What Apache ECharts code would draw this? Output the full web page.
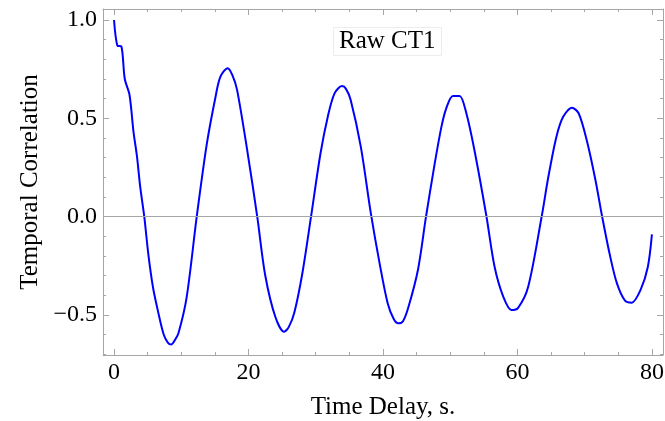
<!DOCTYPE html>
<html>
<head>
<meta charset="utf-8">
<script src="https://cdn.jsdelivr.net/npm/echarts@6/dist/echarts.min.js"></script>
<style>html,body{margin:0;padding:0;background:#fff}#c{width:665px;height:421px}</style>
</head>
<body>
<div id="c"></div>
<script>
const times = [0,0.5,1.1,1.6,2.3,2.9,3.4,3.9,4.5,5.1,5.8,6.6,7.4,8.0,8.5,9.0,9.6,10.8,12.3,13.8,15.1,15.8,16.9,17.6,18.3,19.8,21.3,22.5,24.0,25.3,26.0,26.8,28.0,29.3,30.7,31.8,32.8,33.9,34.5,35.2,36.7,38.2,39.5,40.7,41.6,42.3,43.0,43.8,45.2,46.4,47.7,48.7,49.4,50.4,51.4,52.4,53.6,55.4,56.6,57.9,59.1,60.1,61.6,63.6,64.6,65.8,66.8,68.1,69.1,70.3,71.6,72.6,73.8,74.8,76.0,77.0,78.3,79.4,80.0];
const correlation = [1.0,0.87,0.865,0.70,0.62,0.43,0.31,0.15,0.0,-0.19,-0.36,-0.49,-0.60,-0.64,-0.65,-0.63,-0.59,-0.41,0.0,0.37,0.61,0.71,0.755,0.72,0.645,0.34,0.0,-0.30,-0.51,-0.585,-0.56,-0.49,-0.29,0.0,0.32,0.51,0.627,0.664,0.65,0.593,0.356,0.017,-0.237,-0.44,-0.52,-0.542,-0.53,-0.458,-0.271,0.0,0.271,0.458,0.55,0.614,0.614,0.526,0.339,0.0,-0.254,-0.407,-0.474,-0.463,-0.356,0.0,0.203,0.407,0.508,0.554,0.526,0.39,0.187,0.0,-0.203,-0.339,-0.427,-0.437,-0.373,-0.254,-0.09];
const xMajorTicks = [0,20,40,60,80];
const xMinorTicks = [5,10,15,25,30,35,45,50,55,65,70,75];
const yMajorTicks = [-0.5,0,0.5,1.0];
const yMinorTicks = [-0.7,-0.6,-0.4,-0.3,-0.2,-0.1,0.1,0.2,0.3,0.4,0.6,0.7,0.8,0.9];
const yLabels = {'-0.5':'\u22120.5','0':'0.0','0.5':'0.5','1':'1.0'};
const titleText = 'Raw CT1';
const xName = 'Time Delay, s.';
const yName = 'Temporal Correlation';

const FONT = 'Liberation Serif';
const FRAME = '#a6a6a6';
const XMIN = -1.64, XMAX = 81.65, YMIN = -0.703, YMAX = 1.056;

function xAx(pos, major, withLabels, showLine) {
  return {
    type: 'value', min: XMIN, max: XMAX, position: pos, gridIndex: 0,
    name: withLabels ? xName : '', nameLocation: 'middle', nameGap: 40,
    nameTextStyle: {fontFamily: FONT, fontSize: 25, color: '#000'},
    axisLine: {show: showLine, onZero: false, lineStyle: {color: FRAME, width: 1}},
    axisTick: {show: true, inside: true, length: major ? 6 : 3, customValues: major ? xMajorTicks : xMinorTicks, lineStyle: {color: FRAME}},
    axisLabel: {show: withLabels, customValues: xMajorTicks, margin: 6, fontFamily: FONT, fontSize: 24, color: '#000'},
    splitLine: {show: false}
  };
}
function yAx(pos, major, withLabels, showLine) {
  return {
    type: 'value', min: YMIN, max: YMAX, position: pos, gridIndex: 0,
    name: withLabels ? yName : '', nameLocation: 'middle', nameGap: 60,
    nameTextStyle: {fontFamily: FONT, fontSize: 25, color: '#000'},
    axisLine: {show: showLine, onZero: false, lineStyle: {color: FRAME, width: 1}},
    axisTick: {show: true, inside: true, length: major ? 6 : 3, customValues: major ? yMajorTicks : yMinorTicks, lineStyle: {color: FRAME}},
    axisLabel: {show: withLabels, customValues: yMajorTicks, margin: 6, fontFamily: FONT, fontSize: 24, color: '#000',
      formatter: v => yLabels[String(v)] !== undefined ? yLabels[String(v)] : String(v)},
    splitLine: {show: false}
  };
}

const chart = echarts.init(document.getElementById('c'), null, {renderer: 'canvas'});
chart.setOption({
  animation: false,
  backgroundColor: '#fff',
  title: {
    text: titleText, left: 333, top: 27, padding: [2, 6],
    borderColor: '#ececec', borderWidth: 1, backgroundColor: '#fff',
    textStyle: {fontFamily: FONT, fontSize: 25, fontWeight: 'normal', color: '#000'}
  },
  grid: {left: 103, right: 2, top: 9, bottom: 66, containLabel: false, outerBoundsMode: 'none'},
  xAxis: [xAx('bottom', true, true, true), xAx('bottom', false, false, false), xAx('top', true, false, true), xAx('top', false, false, false)],
  yAxis: [yAx('left', true, true, true), yAx('left', false, false, false), yAx('right', true, false, true), yAx('right', false, false, false)],
  series: [{
    type: 'line', xAxisIndex: 0, yAxisIndex: 0,
    data: times.map((t, i) => [t, correlation[i]]),
    showSymbol: false, smooth: 0.3,
    lineStyle: {color: '#0000ff', width: 2},
    markLine: {
      silent: true, symbol: 'none', label: {show: false},
      lineStyle: {color: '#a6a6a6', width: 1, type: 'solid'},
      data: [{yAxis: 0}]
    },
    z: 3
  }]
});
</script>
</body>
</html>
